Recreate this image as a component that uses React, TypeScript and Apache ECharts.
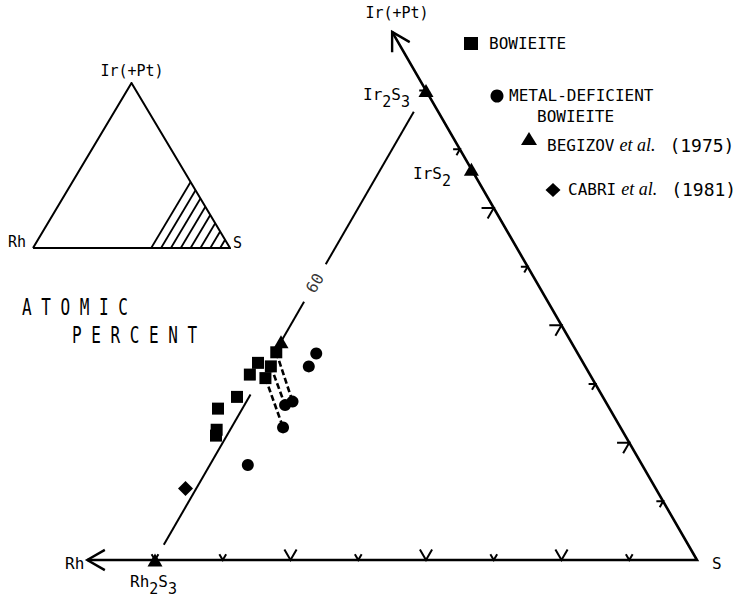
import React, { useEffect, useRef } from "react";
import * as echarts from "echarts";

const SQ = Math.sqrt(3) / 2;
const MONO = '"DejaVu Sans Mono", monospace';
const SERIF = '"Liberation Serif", serif';

// Compositions as [S at.%, Ir(+Pt) at.%]; Rh = 100 - S - Ir
const bowieite: [number, number][] = [
  [60.1, 17.7], [59.2, 16.8], [59.1, 15.8], [60.4, 15.5], [60.3, 16.5],
  [59.1, 13.9], [58.2, 12.9], [59.0, 11.1], [59.2, 10.6],
];
const metalDeficientBowieite: [number, number][] = [
  [63.1, 17.6], [63.1, 16.5], [63.4, 13.5], [63.0, 13.2], [63.8, 11.3], [62.8, 8.1],
];
const begizov1975: [number, number][] = [[60, 18.6], [60, 40], [66.7, 33.3], [60, 0]];
const cabri1981: [number, number][] = [[59.2, 6.1]];
// dashed tie lines bowieite -> metal-deficient bowieite
const tieLines: [number, number][][] = [
  [[60.1, 17.7], [63.4, 13.5]],
  [[60.3, 16.5], [63.0, 13.2]],
  [[60.4, 15.5], [63.8, 11.3]],
];
// ticks
const bottomTicks = [60, 65, 70, 75, 80, 85, 90, 95]; // S at.% on Rh–S edge
const majorBottomTicks = [70, 80, 90];
const rightTicks = [5, 10, 15, 20, 25, 30, 35, 40]; // Ir at.% on S–Ir edge
const majorRightTicks = [10, 20, 30];
// S = 60 at.% iso-line, drawn pieces (Ir ranges)
const sixtyLineSegments: [number, number][] = [[1.3, 14.1], [18.6, 22.0], [25.2, 38.2]];
const sixtyLabelIr = 23.6;
const axisEnd = 45; // arrow tips at 45 at.% Rh and 45 at.% Ir
// inset hatch (S at.%)
const insetHatch = [60, 65, 70, 75, 80, 85, 90, 95];

const toXY = (s: number, ir: number): [number, number] => [s + ir / 2, ir * SQ];

function buildOption() {
  const main = { xAxisIndex: 0, yAxisIndex: 0, coordinateSystem: "cartesian2d" as const };
  const inset = { xAxisIndex: 1, yAxisIndex: 1, coordinateSystem: "cartesian2d" as const };
  const black = "#000";

  const L = 1.5;
  const rhTip = toXY(100 - axisEnd, 0);
  const irTip = toXY(100 - axisEnd, axisEnd);
  const arrowHeads = [
    { coords: [[rhTip[0] + L * Math.cos(Math.PI / 6), rhTip[1] + L * 0.5], rhTip, [rhTip[0] + L * Math.cos(Math.PI / 6), rhTip[1] - L * 0.5]] },
    { coords: [[irTip[0] + L * Math.cos(Math.PI / 6), irTip[1] - L * 0.5], irTip, [irTip[0], irTip[1] - L]] },
  ];

  const bottomTickLines = bottomTicks.map((v) => {
    const d = majorBottomTicks.includes(v) ? 0.9 : 0.5;
    return { coords: [toXY(v - d, d), toXY(v, 0), toXY(v, d)] };
  });
  const rightTickLines = rightTicks.map((v) => {
    const d = majorRightTicks.includes(v) ? 0.9 : 0.5;
    return { coords: [toXY(100 - v - d, v), toXY(100 - v, v), toXY(100 - v, v - d)] };
  });

  const sub = {
    n: { fontSize: 16, fontFamily: MONO, lineHeight: 16, verticalAlign: "top", fill: black, color: black },
    s: { fontSize: 15, fontFamily: MONO, lineHeight: 23, verticalAlign: "bottom", fill: black, color: black },
  };
  const legRich = {
    a: { fontSize: 16, fontFamily: MONO, color: black, fill: black },
    b: { fontSize: 18, fontFamily: SERIF, fontStyle: "italic", color: black, fill: black, padding: [0, 14, 0, 5] },
    c: { fontSize: 18, fontFamily: MONO, color: black, fill: black },
  };

  const txt = (x: number, y: number, text: string, extra: any = {}) => ({
    type: "text",
    x,
    y,
    ...extra.el,
    style: {
      text,
      fontSize: 16,
      fontFamily: MONO,
      fill: black,
      align: "left",
      verticalAlign: "middle",
      ...extra.style,
    },
  });

  return {
    animation: false,
    backgroundColor: "#fff",
    grid: [
      { left: 19.5, top: 4.45, width: 718.15, height: 582.65, outerBoundsMode: "none", containLabel: false },
      { left: 33, top: 83, width: 197, height: 165, outerBoundsMode: "none", containLabel: false },
    ],
    xAxis: [
      { type: "value", gridIndex: 0, min: 50, max: 103, show: false },
      { type: "value", gridIndex: 1, min: 0, max: 100, show: false },
    ],
    yAxis: [
      { type: "value", gridIndex: 0, min: -2, max: 41, show: false },
      { type: "value", gridIndex: 1, min: 0, max: 100 * SQ, show: false },
    ],
    series: [
      {
        type: "lines", ...main, polyline: true, silent: true, z: 2,
        lineStyle: { color: black, width: 2.6, opacity: 1 },
        data: [{ coords: [rhTip, toXY(100, 0), irTip] }],
      },
      {
        type: "lines", ...main, polyline: true, silent: true, z: 2,
        lineStyle: { color: black, width: 2.4, opacity: 1 },
        data: arrowHeads,
      },
      {
        type: "lines", ...main, polyline: true, silent: true, z: 2,
        lineStyle: { color: black, width: 2, opacity: 1 },
        data: [...bottomTickLines, ...rightTickLines],
      },
      {
        type: "lines", ...main, polyline: true, silent: true, z: 2,
        lineStyle: { color: black, width: 2, opacity: 1 },
        data: sixtyLineSegments.map(([a, b]) => ({ coords: [toXY(60, a), toXY(60, b)] })),
      },
      {
        type: "lines", ...main, polyline: true, silent: true, z: 2,
        lineStyle: { color: black, width: 2.6, opacity: 1, type: [6, 3] },
        data: tieLines.map(([p, q]) => ({ coords: [toXY(p[0], p[1]), toXY(q[0], q[1])] })),
      },
      {
        name: "BOWIEITE", type: "scatter", ...main, symbol: "rect", symbolSize: 12, z: 5,
        itemStyle: { color: black, opacity: 1 }, data: bowieite.map(([s, i]) => toXY(s, i)),
      },
      {
        name: "METAL-DEFICIENT BOWIEITE", type: "scatter", ...main, symbol: "circle", symbolSize: 12, z: 5,
        itemStyle: { color: black, opacity: 1 }, data: metalDeficientBowieite.map(([s, i]) => toXY(s, i)),
      },
      {
        name: "BEGIZOV et al. (1975)", type: "scatter", ...main, symbol: "triangle", symbolSize: [15, 13], z: 5,
        itemStyle: { color: black, opacity: 1 }, data: begizov1975.map(([s, i]) => toXY(s, i)),
      },
      {
        name: "CABRI et al. (1981)", type: "scatter", ...main, symbol: "diamond", symbolSize: [15, 15], z: 5,
        itemStyle: { color: black, opacity: 1 }, data: cabri1981.map(([s, i]) => toXY(s, i)),
      },
      {
        type: "scatter", ...main, symbolSize: 1, silent: true, z: 5,
        itemStyle: { color: "transparent" },
        label: {
          show: true, position: "inside", formatter: "60", rotate: 60,
          fontSize: 16, fontFamily: MONO, color: black,
        },
        data: [toXY(60, sixtyLabelIr)],
      },
      {
        type: "lines", ...inset, polyline: true, silent: true, z: 2,
        lineStyle: { color: black, width: 2, opacity: 1, join: "miter" },
        data: [{ coords: [toXY(0, 0), toXY(100, 0), toXY(0, 100), toXY(0, 0)] }],
      },
      {
        type: "lines", ...inset, polyline: true, silent: true, z: 2,
        lineStyle: { color: black, width: 1.8, opacity: 1 },
        data: insetHatch.map((v) => ({ coords: [toXY(v, 0), toXY(v, 100 - v)] })),
      },
    ],
    graphic: [
      // inset labels
      txt(132, 71, "Ir(+Pt)", { style: { align: "center", fontSize: 15 } }),
      txt(8, 242, "Rh", { style: { fontSize: 15 } }),
      txt(233, 243, "S", { style: { fontSize: 15 } }),
      // atomic percent
      txt(22, 296, "A T O M I C", { el: { scaleY: 1.45 }, style: { verticalAlign: "top" } }),
      txt(72, 324, "P E R C E N T", { el: { scaleY: 1.45 }, style: { verticalAlign: "top" } }),
      // main labels
      txt(397, 13, "Ir(+Pt)", { style: { align: "center", fontSize: 15 } }),
      txt(65, 563, "Rh"),
      txt(712, 563, "S"),
      {
        type: "text", x: 363, y: 86,
        style: { text: "{n|Ir}{s|2}{n|S}{s|3}", rich: sub, fill: black, align: "left", verticalAlign: "top" },
      },
      {
        type: "text", x: 413, y: 165,
        style: { text: "{n|IrS}{s|2}", rich: sub, fill: black, align: "left", verticalAlign: "top" },
      },
      {
        type: "text", x: 130, y: 573,
        style: { text: "{n|Rh}{s|2}{n|S}{s|3}", rich: sub, fill: black, align: "left", verticalAlign: "top" },
      },
      // legend
      { type: "rect", shape: { x: 464, y: 37, width: 14, height: 13 }, style: { fill: black } },
      txt(489, 43, "BOWIEITE"),
      { type: "circle", shape: { cx: 497, cy: 96, r: 6.5 }, style: { fill: black } },
      txt(509, 95, "METAL-DEFICIENT"),
      txt(537, 116, "BOWIEITE"),
      { type: "polygon", shape: { points: [[521, 145], [537, 145], [529, 132]] }, style: { fill: black } },
      {
        type: "text", x: 547, y: 145,
        style: { text: "{a|BEGIZOV}{b|et al.}{c|(1975)}", rich: legRich, fill: black, align: "left", verticalAlign: "middle" },
      },
      { type: "polygon", shape: { points: [[553, 183], [560.5, 190], [553, 197], [545.5, 190]] }, style: { fill: black } },
      {
        type: "text", x: 568, y: 189,
        style: { text: "{a|CABRI}{b|et al.}{c|(1981)}", rich: legRich, fill: black, align: "left", verticalAlign: "middle" },
      },
    ],
  };
}

export default function App() {
  const ref = useRef<HTMLDivElement>(null);
  useEffect(() => {
    if (!ref.current) return;
    const chart = echarts.init(ref.current, null, { renderer: "svg" });
    chart.setOption(buildOption() as any);
    return () => chart.dispose();
  }, []);
  return (
    <div
      ref={ref}
      style={{ position: "absolute", left: 0, top: 0, width: 742, height: 598, background: "#fff" }}
    />
  );
}
